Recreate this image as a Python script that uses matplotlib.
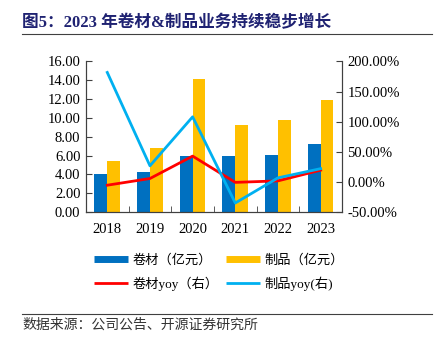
import matplotlib.pyplot as plt
from matplotlib.lines import Line2D

years = ['2018', '2019', '2020', '2021', '2022', '2023']
juancai = [4.03, 4.2, 6.0, 5.95, 6.05, 7.2]
zhipin = [5.4, 6.8, 14.1, 9.2, 9.8, 11.9]
juancai_yoy = [-5.5, 5.6, 42.8, -0.8, 1.7, 19.5]
zhipin_yoy = [181.7, 26.7, 108.0, -35.0, 6.7, 22.0]

left_ticks = [0, 2, 4, 6, 8, 10, 12, 14, 16]
right_ticks = [-50, 0, 50, 100, 150, 200]

BLUE = '#0070C0'
YELLOW = '#FFC000'
RED = '#FF0000'
LBLUE = '#00B0F0'
FAM = ['Liberation Serif', 'Noto Sans CJK SC']

plt.rcParams['font.family'] = FAM

fig = plt.figure(figsize=(4.34, 3.47), dpi=100)
ax = fig.add_axes([0.198, 0.389, 0.590, 0.434])
ax2 = ax.twinx()

x = list(range(len(years)))
w = 0.3
ax.bar([i - w / 2 for i in x], juancai, width=w, color=BLUE, zorder=2)
ax.bar([i + w / 2 for i in x], zhipin, width=w, color=YELLOW, zorder=2)
ax2.plot(x, juancai_yoy, color=RED, lw=2.0, zorder=3)
ax2.plot(x, zhipin_yoy, color=LBLUE, lw=2.0, zorder=3)

ax.set_xlim(-0.5, 5.5)
ax.set_ylim(0, 16)
ax2.set_ylim(-50, 200)
ax.set_yticks(left_ticks)
ax.set_yticklabels([f'{v:.2f}' for v in left_ticks], fontsize=10.5)
ax2.set_yticks(right_ticks)
ax2.set_yticklabels([f'{v:.2f}%' for v in right_ticks], fontsize=10.5)
ax.set_xticks(x)
ax.set_xticklabels(years, fontsize=10.5)
ax.set_xticks([i + 0.5 for i in range(-1, 6)], minor=True)
ax.tick_params(axis='x', which='major', length=0, pad=8)
ax.tick_params(axis='x', which='minor', direction='in', length=4, color='#404040')
ax.tick_params(axis='y', direction='in', length=4, color='#404040', pad=4)
ax2.tick_params(axis='y', direction='in', length=4, color='#404040', pad=4)

for a in (ax, ax2):
    a.spines['top'].set_visible(False)
    for s in ('left', 'right', 'bottom'):
        a.spines[s].set_color('#404040')
        a.spines[s].set_linewidth(0.8)

handles = [
    Line2D([], [], color=BLUE, lw=5, solid_capstyle='butt'),
    Line2D([], [], color=RED, lw=2, solid_capstyle='butt'),
    Line2D([], [], color=YELLOW, lw=5, solid_capstyle='butt'),
    Line2D([], [], color=LBLUE, lw=2, solid_capstyle='butt'),
]
labels = ['卷材（亿元）', '卷材yoy（右）', '制品（亿元）', '制品yoy(右)']
fig.legend(handles, labels, ncol=2, loc='center', bbox_to_anchor=(0.505, 0.215),
           frameon=False, fontsize=9.5, handlelength=2.6, columnspacing=0.5,
           labelspacing=0.75, handletextpad=0.35)

fig.text(0.05, 0.935, '图5：2023 年卷材&制品业务持续稳步增长', fontsize=12,
         fontweight='bold', color='#1F2272', va='center', family=FAM)
fig.add_artist(Line2D([0.05, 0.995], [0.901, 0.901], color='#404040', lw=0.8))
fig.add_artist(Line2D([0.05, 0.995], [0.095, 0.095], color='#404040', lw=0.8))
fig.text(0.052, 0.063, '数据来源：公司公告、开源证券研究所', fontsize=10,
         fontweight='light', color='#333333', va='center', family=FAM)

fig.savefig('out.png', dpi=100)
